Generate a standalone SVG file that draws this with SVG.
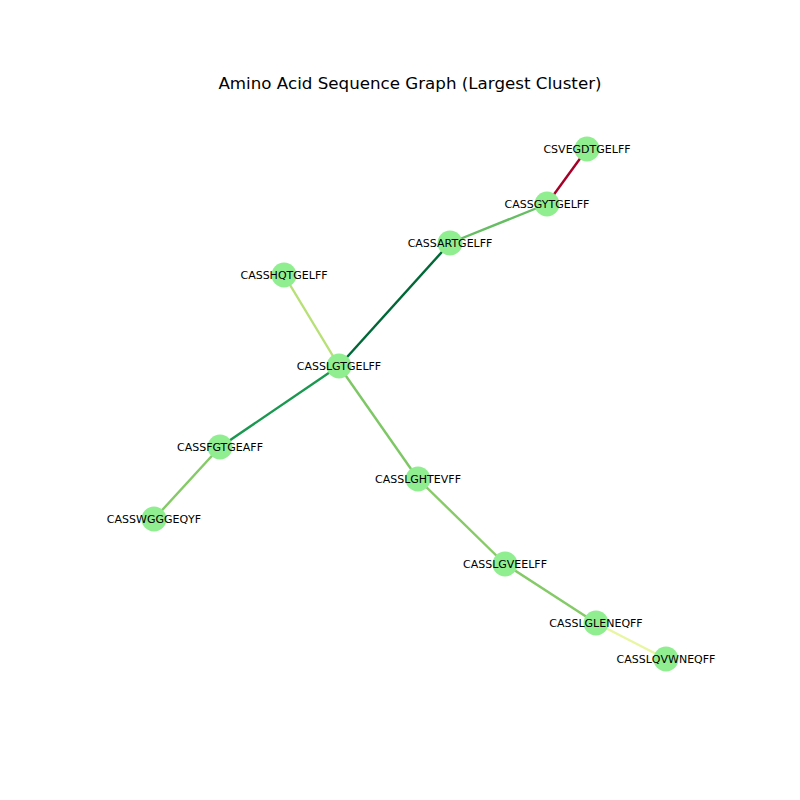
<svg xmlns="http://www.w3.org/2000/svg" width="800" height="800" viewBox="0 0 800 800">
<style>
.bg{fill:#ffffff}
.e{stroke-width:2.4;fill:none;stroke-linecap:butt}
.n circle{fill:#90ee90}
.n text{font-family:"DejaVu Sans",sans-serif;font-size:11px;fill:#000;text-anchor:middle;dominant-baseline:central}
.title{font-family:"DejaVu Sans",sans-serif;font-size:16.7px;fill:#000;text-anchor:middle}
</style>
<rect class="bg" x="0" y="0" width="800" height="800"/>
<text class="title" x="410" y="89">Amino Acid Sequence Graph (Largest Cluster)</text>
<g id="connectors">
<line class="e" x1="587" y1="149" x2="547" y2="204" stroke="#a50026"/>
<line class="e" x1="547" y1="204" x2="450" y2="243" stroke="#66bd63"/>
<line class="e" x1="450" y1="243" x2="339" y2="366" stroke="#006837"/>
<line class="e" x1="284" y1="275" x2="339" y2="366" stroke="#b7e075"/>
<line class="e" x1="339" y1="366" x2="220" y2="447" stroke="#1a9850"/>
<line class="e" x1="220" y1="447" x2="154" y2="519" stroke="#84ca66"/>
<line class="e" x1="339" y1="366" x2="418" y2="479" stroke="#7dc765"/>
<line class="e" x1="418" y1="479" x2="505" y2="564" stroke="#86cb66"/>
<line class="e" x1="505" y1="564" x2="596" y2="623" stroke="#84ca66"/>
<line class="e" x1="596" y1="623" x2="666" y2="659" stroke="#e9f6a1"/>
</g>
<g id="n_CSVEGDTGELFF" class="n"><circle cx="587" cy="149" r="12.5"/><text x="587" y="149">CSVEGDTGELFF</text></g>
<g id="n_CASSGYTGELFF" class="n"><circle cx="547" cy="204" r="12.5"/><text x="547" y="204">CASSGYTGELFF</text></g>
<g id="n_CASSARTGELFF" class="n"><circle cx="450" cy="243" r="12.5"/><text x="450" y="243">CASSARTGELFF</text></g>
<g id="n_CASSHQTGELFF" class="n"><circle cx="284" cy="275" r="12.5"/><text x="284" y="275">CASSHQTGELFF</text></g>
<g id="n_CASSLGTGELFF" class="n"><circle cx="339" cy="366" r="12.5"/><text x="339" y="366">CASSLGTGELFF</text></g>
<g id="n_CASSFGTGEAFF" class="n"><circle cx="220" cy="447" r="12.5"/><text x="220" y="447">CASSFGTGEAFF</text></g>
<g id="n_CASSWGGGEQYF" class="n"><circle cx="154" cy="519" r="12.5"/><text x="154" y="519">CASSWGGGEQYF</text></g>
<g id="n_CASSLGHTEVFF" class="n"><circle cx="418" cy="479" r="12.5"/><text x="418" y="479">CASSLGHTEVFF</text></g>
<g id="n_CASSLGVEELFF" class="n"><circle cx="505" cy="564" r="12.5"/><text x="505" y="564">CASSLGVEELFF</text></g>
<g id="n_CASSLGLENEQFF" class="n"><circle cx="596" cy="623" r="12.5"/><text x="596" y="623">CASSLGLENEQFF</text></g>
<g id="n_CASSLQVWNEQFF" class="n"><circle cx="666" cy="659" r="12.5"/><text x="666" y="659">CASSLQVWNEQFF</text></g>
</svg>
